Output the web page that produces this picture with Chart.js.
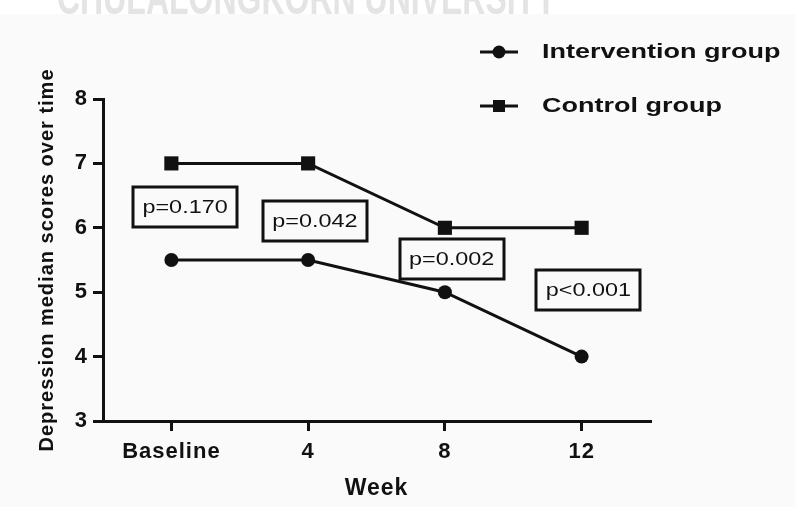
<!DOCTYPE html>
<html>
<head>
<meta charset="utf-8">
<script src="https://cdn.jsdelivr.net/npm/chart.js@4.4.0/dist/chart.umd.min.js"></script>
<style>
html, body { margin: 0; padding: 0; background: #fafafa; }
canvas { display: block; }
</style>
</head>
<body>
<canvas id="lineChart" width="795" height="507"></canvas>
<script>
// data
var weeks = ['Baseline', '4', '8', '12'];
var interventionScores = [5.5, 5.5, 5, 4];
var controlScores = [7, 7, 6, 6];
var pLabels = ['p=0.170', 'p=0.042', 'p=0.002', 'p<0.001'];
// where each p-value box sits, in axis units (week index, score)
var pLabelAt = [0.1, 0.05, 0.05, 0.05];
var pLabelY = [6.32, 6.10, 5.52, 5.04];

(function() {
	var ink = '#111111';
	var fontFamily = "'Liberation Sans', Arial, Helvetica, sans-serif";

	var decor = {
		id: 'decor',
		beforeUpdate: function(chart) {
			// the figure's lettering is set wide
			chart.ctx.letterSpacing = '1px';
		},
		beforeDraw: function(chart) {
			var ctx = chart.ctx;
			ctx.save();
			ctx.fillStyle = '#fafafa';
			ctx.fillRect(0, 0, chart.width, chart.height);
			ctx.fillStyle = '#ffffff';
			ctx.fillRect(0, 0, chart.width, 14);
			ctx.beginPath();
			ctx.rect(0, 0, chart.width, 14);
			ctx.clip();
			// watermark of the page above, cut off
			ctx.fillStyle = '#e4e4e4';
			ctx.letterSpacing = '0px';
			ctx.font = 'bold 32px ' + fontFamily;
			ctx.textBaseline = 'alphabetic';
			ctx.translate(57, 14);
			ctx.scale(1, 1.5);
			ctx.fillText('CHULALONGKORN UNIVERSITY', 0, 0);
			ctx.restore();
		},
		afterDatasetsDraw: function(chart) {
			var ctx = chart.ctx;
			var xs = chart.scales.x, ys = chart.scales.y;
			ctx.save();
			ctx.letterSpacing = '0px';
			ctx.lineWidth = 3;
			ctx.strokeStyle = ink;
			ctx.fillStyle = ink;
			ctx.font = '18px ' + fontFamily;
			ctx.textAlign = 'center';
			ctx.textBaseline = 'middle';
			pLabels.forEach(function(txt, i) {
				var cx = xs.getPixelForValue(pLabelAt[i] + i);
				var cy = ys.getPixelForValue(pLabelY[i]);
				ctx.strokeRect(Math.round(cx - 52), Math.round(cy - 20), 104, 40);
				ctx.save();
				ctx.translate(cx, cy + 1);
				ctx.scale(1.3, 1);
				ctx.fillText(txt, 0, 0);
				ctx.restore();
			});
			ctx.restore();
		},
		afterDraw: function(chart) {
			// legend: short line with the marker, then the label
			var ctx = chart.ctx;
			var rows = [52, 106];
			ctx.save();
			ctx.letterSpacing = '0px';
			chart.data.datasets.forEach(function(ds, i) {
				var y = rows[i];
				ctx.strokeStyle = ds.borderColor;
				ctx.fillStyle = ds.backgroundColor;
				ctx.lineWidth = ds.borderWidth;
				ctx.beginPath();
				ctx.moveTo(480, y);
				ctx.lineTo(518, y);
				ctx.stroke();
				Chart.helpers.drawPoint(ctx, {
					pointStyle: ds.pointStyle,
					radius: ds.pointStyle === 'rect' ? 8.5 : 6.5,
					borderWidth: 0,
					rotation: 0
				}, 499, y);
				ctx.fillStyle = ink;
				ctx.font = 'bold 20px ' + fontFamily;
				ctx.textAlign = 'left';
				ctx.textBaseline = 'middle';
				ctx.save();
				ctx.translate(542, y);
				ctx.scale(1.35, 1);
				ctx.fillText(ds.label, 0, 0);
				ctx.restore();
			});
			ctx.restore();
		}
	};

	var axisGrid = {
		display: true,
		drawOnChartArea: false,
		drawTicks: true,
		tickLength: 10,
		tickWidth: 3,
		tickColor: ink,
		lineWidth: 3,
		color: ink
	};

	var lineChart = function() {
		var el = document.getElementById('lineChart').getContext('2d');
		new Chart(el, {
			type: 'line',
			data: {
				labels: weeks,
				datasets: [{
					label: 'Intervention group',
					data: interventionScores,
					borderColor: ink,
					backgroundColor: ink,
					borderWidth: 3,
					pointStyle: 'circle',
					pointRadius: 7,
					pointBorderWidth: 0,
					pointBackgroundColor: ink,
					tension: 0
				}, {
					label: 'Control group',
					data: controlScores,
					borderColor: ink,
					backgroundColor: ink,
					borderWidth: 3,
					pointStyle: 'rect',
					pointRadius: 10,
					pointBorderWidth: 0,
					pointBackgroundColor: ink,
					tension: 0
				}]
			},
			options: {
				responsive: false,
				animation: false,
				events: [],
				layout: {
					padding: { top: 99, right: 145, bottom: 0, left: 0 }
				},
				plugins: {
					legend: { display: false },
					tooltip: { enabled: false }
				},
				scales: {
					x: {
						offset: true,
						afterFit: function(scale) { scale.height = 86; },
						grid: axisGrid,
						border: { display: true, color: ink, width: 3 },
						ticks: {
							color: ink,
							padding: 8,
							maxRotation: 0,
							autoSkip: false,
							font: { family: fontFamily, size: 22, weight: 'bold' }
						},
						title: {
							display: true,
							text: 'Week',
							color: ink,
							padding: { top: 0, bottom: 5 },
							font: { family: fontFamily, size: 23, weight: 'bold' }
						}
					},
					y: {
						min: 3,
						max: 8,
						afterFit: function(scale) { scale.width = 103; },
						grid: axisGrid,
						border: { display: true, color: ink, width: 3 },
						ticks: {
							stepSize: 1,
							color: ink,
							padding: 5,
							font: { family: fontFamily, size: 22, weight: 'bold' }
						},
						title: {
							display: true,
							text: 'Depression median scores over time',
							color: ink,
							padding: { top: 35, bottom: 0 },
							font: { family: fontFamily, size: 20, weight: 'bold' }
						}
					}
				}
			},
			plugins: [decor]
		});
	};

	lineChart();
})();
</script>
</body>
</html>
